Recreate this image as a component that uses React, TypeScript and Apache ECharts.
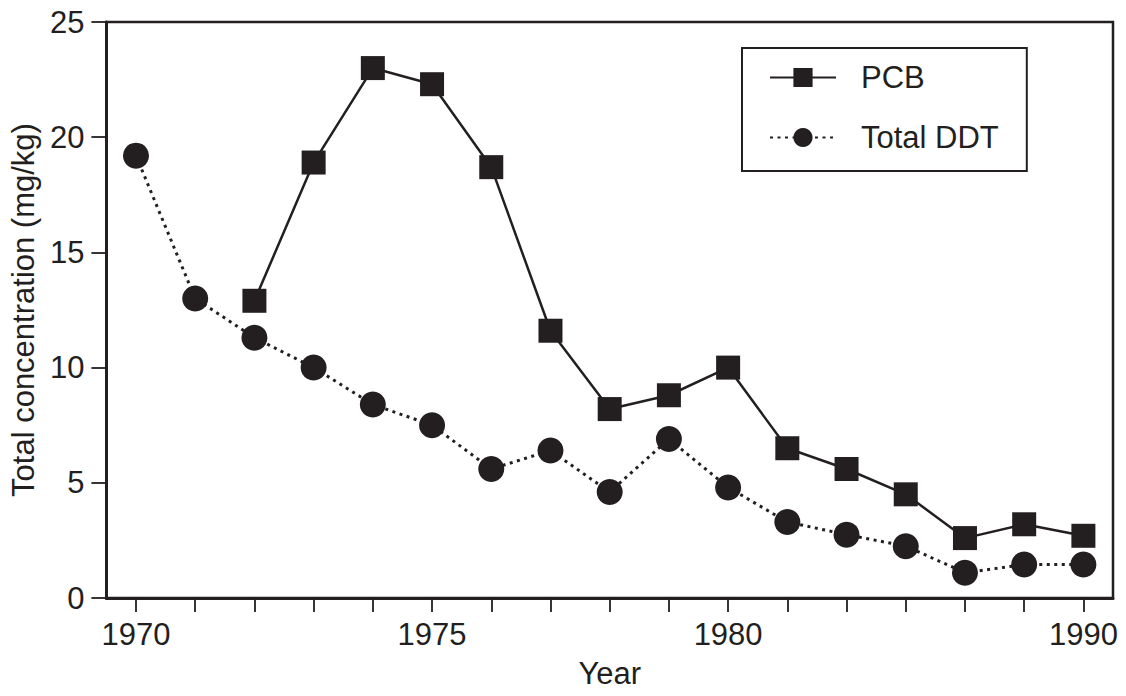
import React, { useEffect, useRef } from "react";
import * as echarts from "echarts";

// One slot per sampling year along the x axis; only some slots carry a label.
const tickLabels = ["1970", "", "", "", "", "1975", "", "", "", "", "1980", "", "", "", "", "", "1990"];

// PCB was not measured in the first two years.
const pcbValues = [null, null, 12.9, 18.9, 23.0, 22.3, 18.7, 11.6, 8.2, 8.8, 10.0, 6.5, 5.6, 4.5, 2.6, 3.2, 2.7];
const ddtValues = [19.2, 13.0, 11.3, 10.0, 8.4, 7.5, 5.6, 6.4, 4.6, 6.9, 4.8, 3.3, 2.75, 2.25, 1.1, 1.45, 1.45];

const yTicks = { min: 0, max: 25, interval: 5 };

const INK = "#231f20";
const FONT = "'Liberation Sans', Arial, Helvetica, sans-serif";
const FS = 31;

export default function App() {
  const ref = useRef<HTMLDivElement>(null);

  useEffect(() => {
    if (!ref.current) return;
    const chart = echarts.init(ref.current, undefined, { renderer: "svg" });
    chart.setOption({
      animation: false,
      backgroundColor: "#ffffff",
      textStyle: { fontFamily: FONT, color: INK },
      grid: {
        left: 104,
        right: 13,
        top: 22,
        bottom: 98,
        show: true,
        borderColor: INK,
        borderWidth: 2.5,
        containLabel: false,
      },
      legend: {
        left: 742,
        top: 48,
        orient: "vertical",
        selectedMode: false,
        borderColor: INK,
        borderWidth: 2,
        padding: [14, 28, 18, 27],
        itemWidth: 66,
        itemHeight: 24,
        itemGap: 29,
        textStyle: { fontSize: FS, color: INK, fontFamily: FONT, padding: [0, 0, 0, 20] },
        data: ["PCB", "Total DDT"],
      },
      xAxis: {
        type: "category",
        boundaryGap: true,
        data: tickLabels.map((_, i) => String(i)),
        name: "Year",
        nameLocation: "middle",
        nameGap: 60,
        nameTextStyle: { fontSize: FS, color: INK, fontFamily: FONT },
        axisLine: { lineStyle: { color: INK, width: 3 } },
        axisTick: { show: true, alignWithLabel: true, interval: 0, length: 14, lineStyle: { color: INK, width: 1.8 } },
        axisLabel: {
          interval: 0,
          margin: 21,
          fontSize: FS,
          color: INK,
          fontFamily: FONT,
          formatter: (_v: string, i: number) => tickLabels[i],
        },
        splitLine: { show: false },
      },
      yAxis: {
        type: "value",
        min: yTicks.min,
        max: yTicks.max,
        interval: yTicks.interval,
        name: "Total concentration (mg/kg)",
        nameLocation: "middle",
        nameGap: 62,
        nameTextStyle: { fontSize: FS, color: INK, fontFamily: FONT },
        axisLine: { show: true, lineStyle: { color: INK, width: 3 } },
        axisTick: { show: true, length: 15, lineStyle: { color: INK, width: 1.8 } },
        axisLabel: { margin: 22, fontSize: FS, color: INK, fontFamily: FONT },
        splitLine: { show: false },
      },
      series: [
        {
          name: "PCB",
          type: "line",
          data: pcbValues,
          symbol: "rect",
          symbolSize: 24,
          itemStyle: { color: INK },
          lineStyle: { color: INK, width: 2.5 },
          z: 3,
        },
        {
          name: "Total DDT",
          type: "line",
          data: ddtValues,
          symbol: "circle",
          symbolSize: 26,
          itemStyle: { color: INK },
          lineStyle: { color: INK, width: 3, type: [3, 4.5] },
          z: 2,
        },
      ],
    });
    return () => chart.dispose();
  }, []);

  return <div ref={ref} style={{ width: 1126, height: 696, margin: -8 }} />;
}
